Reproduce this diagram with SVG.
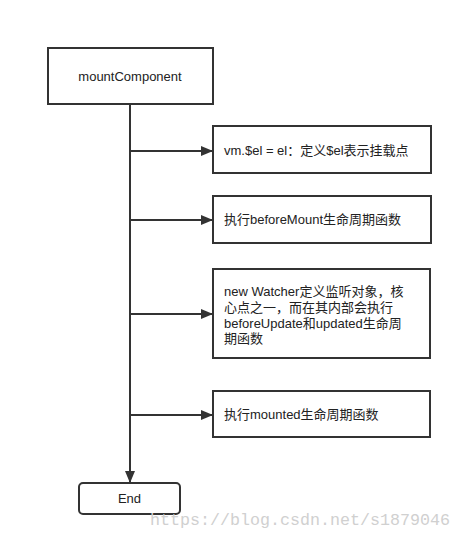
<svg xmlns="http://www.w3.org/2000/svg" width="461" height="547" viewBox="0 0 461 547">
<defs>
<style>
.box{fill:#fff;stroke:#333;stroke-width:2}
.t{font-family:"Liberation Sans","Noto Sans CJK SC",sans-serif;font-size:13px;fill:#222}
.c{stroke:#333;stroke-width:2;fill:none}
</style>
<marker id="ah" viewBox="0 0 12 10" refX="12" refY="5" markerWidth="12" markerHeight="10" markerUnits="userSpaceOnUse" orient="auto">
<path d="M0,0 L12,5 L0,10 Z" fill="#333"/>
</marker>
</defs>
<rect width="461" height="547" fill="#fff"/>
<g id="connectors">
<line class="c" x1="130" y1="104" x2="130" y2="483" marker-end="url(#ah)"/>
<line class="c" x1="130" y1="151" x2="213" y2="151" marker-end="url(#ah)"/>
<line class="c" x1="130" y1="220" x2="213" y2="220" marker-end="url(#ah)"/>
<line class="c" x1="130" y1="314" x2="213" y2="314" marker-end="url(#ah)"/>
<line class="c" x1="130" y1="415" x2="213" y2="415" marker-end="url(#ah)"/>
</g>
<g id="mountComponent">
<rect class="box" x="48" y="48" width="165" height="56"/>
<text class="t" x="130" y="81" text-anchor="middle">mountComponent</text>
</g>
<g id="n1">
<rect class="box" x="213" y="126" width="218" height="47"/>
<text class="t" x="224" y="155">vm.$el = el：定义$el表示挂载点</text>
</g>
<g id="n2">
<rect class="box" x="213" y="196" width="218" height="47"/>
<text class="t" x="224" y="224">执行beforeMount生命周期函数</text>
</g>
<g id="n3">
<rect class="box" x="213" y="269" width="217" height="89"/>
<text class="t" x="224" y="296">new Watcher定义监听对象，核</text>
<text class="t" x="224" y="312">心点之一，而在其内部会执行</text>
<text class="t" x="224" y="328">beforeUpdate和updated生命周</text>
<text class="t" x="224" y="343">期函数</text>
</g>
<g id="n4">
<rect class="box" x="213" y="391" width="217" height="46"/>
<text class="t" x="224" y="419">执行mounted生命周期函数</text>
</g>
<g id="end">
<rect class="box" x="79" y="483" width="101" height="31" rx="4"/>
<text class="t" x="129.5" y="503" text-anchor="middle">End</text>
</g>
<text x="150" y="525" font-family="Liberation Mono,monospace" font-size="17" fill="#d0d0d0" textLength="300" lengthAdjust="spacingAndGlyphs">https://blog.csdn.net/s1879046</text>
</svg>
